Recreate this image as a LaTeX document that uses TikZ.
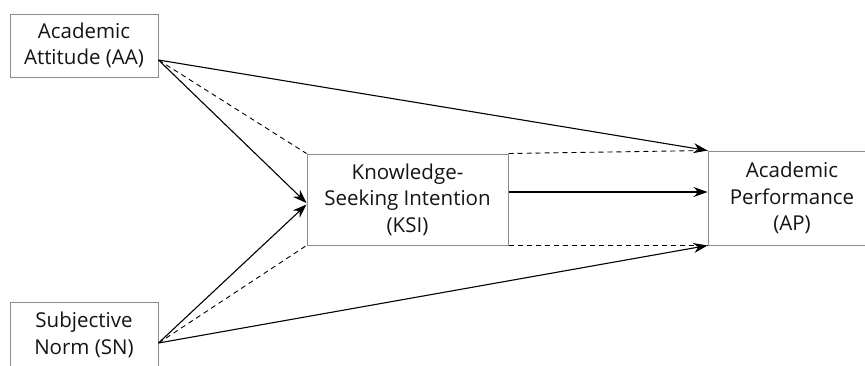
\documentclass[tikz,border=0pt]{standalone}
\usepackage{fontspec}
\setmainfont{Open Sans}
\usetikzlibrary{arrows.meta,calc}
\tikzset{
  box/.style={draw=black!45, line width=1pt, rectangle, align=center, inner sep=0pt,
    font=\fontsize{20.5}{26.5}\selectfont, text=black!92},
  conn/.style={line width=1.1pt, -{Stealth[length=14pt,width=10pt]}},
  dashline/.style={line width=0.9pt, dash pattern=on 5pt off 4pt},
}
\begin{document}
\begin{tikzpicture}[x=1pt,y=-1pt]
\useasboundingbox (0,0) rectangle (865,365);
\clip (0,0) rectangle (865,365);
\node[box, minimum width=148pt, minimum height=63pt] (AA) at (84,45.5) {Academic\\Attitude (AA)};
\node[box, minimum width=148pt, minimum height=66pt] (SN) at (84,335) {Subjective\\Norm (SN)};
\node[box, minimum width=201pt, minimum height=91pt] (KSI) at (407.5,199.5) {Knowledge-\\Seeking Intention\\(KSI)};
\node[box, minimum width=168pt, minimum height=94pt] (AP) at (792,198) {Academic\\Performance\\(AP)};
\coordinate (aa) at ([yshift=-14.5pt]AA.east);
\coordinate (sn) at ([yshift=-8pt]SN.east);
\draw[dashline] (aa) -- (KSI.north west);
\draw[dashline] (sn) -- (KSI.south west);
\draw[dashline] (KSI.north east) -- (AP.north west);
\draw[dashline] (KSI.south east) -- (AP.south west);
\draw[conn] (aa) -- (AP.north west);
\draw[conn] (aa) -- ([yshift=-3.5pt]KSI.west);
\draw[conn] (sn) -- ([yshift=-5pt]KSI.west);
\draw[conn] (sn) -- (AP.south west);
\draw[conn] ([yshift=7.5pt]KSI.east) -- ([yshift=6pt]AP.west);
\end{tikzpicture}
\end{document}
